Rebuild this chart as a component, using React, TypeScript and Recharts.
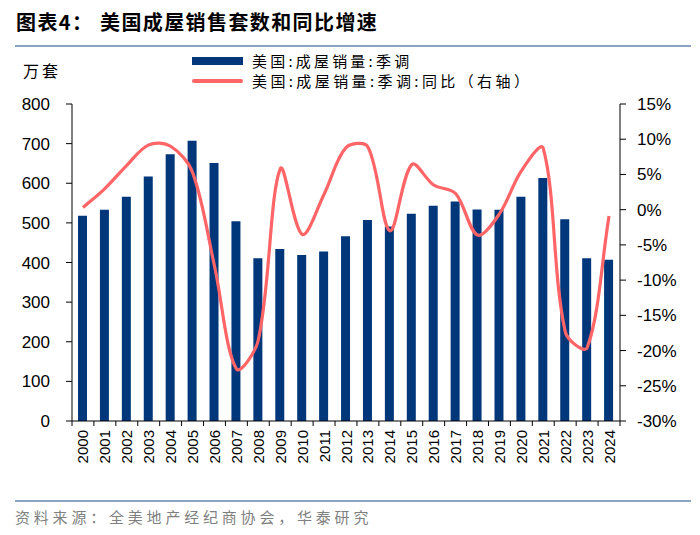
import { ComposedChart, Bar, Line, XAxis, YAxis } from 'recharts';

const years = [
    '2000', '2001', '2002', '2003', '2004', '2005', '2006', '2007', '2008', '2009', '2010', '2011', '2012',
    '2013', '2014', '2015', '2016', '2017', '2018', '2019', '2020', '2021', '2022', '2023', '2024',
];
// 美国:成屋销量:季调 (万套)
const sales = [518, 533, 566, 617, 673, 707, 651, 504, 411, 434, 419, 428, 466, 507, 491, 523, 543, 554, 534, 533, 566, 613, 509, 411, 407];
// 美国:成屋销量:季调:同比 (%)
const yoy = [0.3, 3.0, 6.3, 9.2, 9.0, 5.3, -8.0, -22.6, -18.5, 5.8, -3.5, 2.2, 8.8, 8.9, -3.0, 6.4, 3.5, 2.3, -3.6, -0.6, 5.5, 8.7, -17.3, -19.6, -0.9];
const leftTicks = [0, 100, 200, 300, 400, 500, 600, 700, 800];
const rightTicks = [-30, -25, -20, -15, -10, -5, 0, 5, 10, 15];

const data = years.map((year, i) => ({ year, sales: sales[i], yoy: yoy[i] }));

const BAR_COLOR = '#00377A';
const LINE_COLOR = '#FF6466';
const LATIN = '"Liberation Sans", Arial, sans-serif';
const CJK = '"Noto Sans CJK SC", "Noto Sans", sans-serif';

// Excel-like smoothing: tangent through neighbours, control arms scaled by segment length
const excelSmooth = (context: any) => {
    let pts: [number, number][] = [];
    return {
        areaStart() {},
        areaEnd() {},
        lineStart() {
            pts = [];
        },
        point(x: number, y: number) {
            pts.push([+x, +y]);
        },
        lineEnd() {
            const n = pts.length;
            if (!n) return;
            const dist = (a: [number, number], b: [number, number]) => Math.hypot(b[0] - a[0], b[1] - a[1]);
            const outC: [number, number][] = [];
            const inC: [number, number][] = [];
            for (let i = 0; i < n; i++) {
                const p = pts[i];
                const prev = pts[i - 1] || p;
                const next = pts[i + 1] || p;
                const d0 = dist(prev, p);
                const d1 = dist(p, next);
                const sum = d0 + d1 || 1;
                const tx = next[0] - prev[0];
                const ty = next[1] - prev[1];
                const s = 1 / 3;
                outC.push([p[0] + tx * s * (d1 / sum), p[1] + ty * s * (d1 / sum)]);
                inC.push([p[0] - tx * s * (d0 / sum), p[1] - ty * s * (d0 / sum)]);
            }
            context.moveTo(pts[0][0], pts[0][1]);
            for (let i = 0; i < n - 1; i++) {
                context.bezierCurveTo(outC[i][0], outC[i][1], inC[i + 1][0], inC[i + 1][1], pts[i + 1][0], pts[i + 1][1]);
            }
        },
    };
};

const YearTick = (props: any) => {
    const { x, y, payload, index } = props;
    const half = payload.offset || 0;
    return (
        <g>
            <line x1={x - half} y1={y - 8} x2={x - half} y2={y - 3} stroke="#000" />
            {index === years.length - 1 && <line x1={x + half} y1={y - 8} x2={x + half} y2={y - 3} stroke="#000" />}
            <text
                x={x}
                y={y + 1}
                transform={`rotate(-90, ${x}, ${y + 1})`}
                textAnchor="end"
                dominantBaseline="central"
                fontSize={15}
                fontFamily={LATIN}
                fill="#000"
            >
                {payload.value}
            </text>
        </g>
    );
};

export default function App() {
    const titleStyle = { position: 'absolute' as const, top: 7, fontSize: 20, fontWeight: 700, color: '#000', whiteSpace: 'pre' as const, letterSpacing: 1.4 };
    const legendText = { position: 'absolute' as const, left: 252, fontSize: 15, lineHeight: '16px', color: '#000', whiteSpace: 'nowrap' as const };
    return (
        <div style={{ position: 'absolute', left: 0, top: 0, width: 700, height: 535, background: '#fff', fontFamily: CJK }}>
            <div style={{ ...titleStyle, left: 16 }}>图表4：</div>
            <div style={{ ...titleStyle, left: 100 }}>美国成屋销售套数和同比增速</div>
            <div style={{ position: 'absolute', left: 15, top: 45, width: 676, height: 2, background: '#8DA3C4' }} />

            <div style={{ position: 'absolute', left: 23, top: 58, fontSize: 16, color: '#000', letterSpacing: 3 }}>万套</div>

            <div style={{ position: 'absolute', left: 192, top: 57, width: 51, height: 8, background: BAR_COLOR }} />
            <div style={{ ...legendText, top: 53, letterSpacing: 3.2 }}>美国:成屋销量:季调</div>
            <div style={{ position: 'absolute', left: 192, top: 79, width: 51, height: 4, borderRadius: 2, background: LINE_COLOR }} />
            <div style={{ ...legendText, top: 73, letterSpacing: 3.4 }}>美国:成屋销量:季调:同比（右轴）</div>

            <div style={{ position: 'absolute', left: 0, top: 0 }}>
                <ComposedChart width={700} height={480} data={data} margin={{ top: 104, right: 0, left: 0, bottom: 0 }}>
                    <XAxis
                        dataKey="year"
                        interval={0}
                        height={59}
                        stroke="#000"
                        tickLine={false}
                        tick={<YearTick />}
                    />
                    <YAxis
                        yAxisId="left"
                        width={72}
                        domain={[0, 800]}
                        ticks={leftTicks}
                        stroke="#000"
                        tickSize={6}
                        tickMargin={16}
                        tick={{ fontSize: 17, fontFamily: LATIN, fill: '#000' }}
                    />
                    <YAxis
                        yAxisId="right"
                        orientation="right"
                        width={80}
                        domain={[-30, 15]}
                        ticks={rightTicks}
                        tickFormatter={(v: number) => `${v}%`}
                        stroke="#000"
                        tickSize={6}
                        tickMargin={11}
                        tick={{ fontSize: 17, fontFamily: LATIN, fill: '#000' }}
                    />
                    <Bar yAxisId="left" dataKey="sales" fill={BAR_COLOR} barSize={9} isAnimationActive={false} />
                    <Line
                        yAxisId="right"
                        dataKey="yoy"
                        type={excelSmooth as any}
                        stroke={LINE_COLOR}
                        strokeWidth={3.2}
                        dot={false}
                        activeDot={false}
                        isAnimationActive={false}
                    />
                </ComposedChart>
            </div>

            <div style={{ position: 'absolute', left: 15, top: 500, width: 676, height: 2, background: '#8DA3C4' }} />
            <div style={{ position: 'absolute', left: 15, top: 506, fontSize: 15, color: '#808080', letterSpacing: 3.8 }}>
                资料来源：全美地产经纪商协会，华泰研究
            </div>
        </div>
    );
}
